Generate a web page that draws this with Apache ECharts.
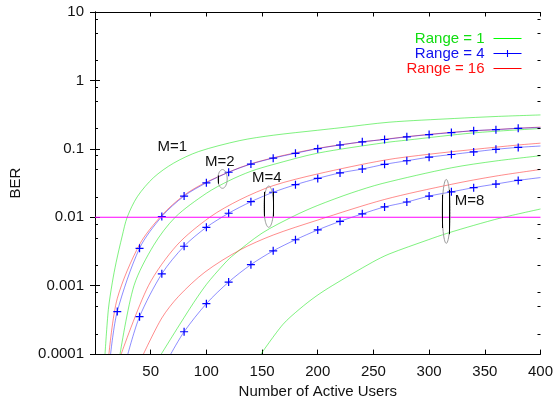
<!DOCTYPE html>
<html><head><meta charset="utf-8">
<script src="https://cdn.jsdelivr.net/npm/echarts@6/dist/echarts.min.js"></script>
<style>html,body{margin:0;padding:0;background:#fff}#c{width:556px;height:404px}</style>
</head><body><div id="c"></div>
<script>
// ---- axis ticks ----
const xTickMin = 0, xTickMax = 400, xTickStep = 50;
const yTickLabels = ['0.0001','0.001','0.01','0.1','1','10'];
const yMinorTicks = [0.0002,0.0005,0.0008,0.002,0.005,0.008,0.02,0.05,0.08,0.2,0.5,0.8,2,5,8];

// ---- Range = 1 (green) curves, M = 1,2,4,8 ----
const g1X = [9,12,15.5,19,24.4,28.9,38,52.6,70.5,93,130,160,200,220,264,323,360,400];
const g1Y = [0.0001,0.00045,0.0011,0.0022,0.0053,0.01,0.02,0.038,0.0617,0.0912,0.132,0.158,0.187,0.203,0.245,0.278,0.297,0.313];
const g2X = [22.5,35,52.7,72,100,120,140,160,200,260,280,340,400];
const g2Y = [0.0001,0.001,0.0039,0.01,0.0224,0.034,0.047,0.059,0.0865,0.123,0.134,0.171,0.198];
const g3X = [59.5,85.4,100,115,122.6,150,179,200,230,257.8,320,360,400];
const g3Y = [0.0001,0.00047,0.00104,0.002,0.00266,0.00586,0.0105,0.0149,0.0226,0.0311,0.0528,0.0665,0.0793];
const g4X = [149,168.6,184,198.4,213,249,264,299.4,315.8,340,364.8,400];
const g4Y = [0.0001,0.00027,0.00046,0.0007,0.001,0.0022,0.0029,0.0047,0.0058,0.0076,0.0098,0.0132];

// ---- Range = 4 (blue, + markers every 20 users) ----
const b1X = [14,20,40,60,80,100,120,140,160,180,200,220,240,260,280,300,320,340,360,380,400];
const b1Y = [0.0001,0.000419,0.00352,0.01026,0.0204,0.0319,0.0455,0.0599,0.0731,0.0861,0.1007,0.1138,0.1268,0.137,0.1497,0.1616,0.1726,0.1845,0.1906,0.1996,0.205];
const b2X = [29.5,40,60,80,100,120,140,160,180,200,220,240,260,280,300,320,340,360,380,400];
const b2Y = [0.0001,0.000352,0.00149,0.00377,0.00713,0.01145,0.01687,0.0232,0.0299,0.037,0.0445,0.0507,0.0593,0.067,0.0755,0.0826,0.0902,0.0984,0.105,0.11];
const b3X = [68,80,100,120,140,160,180,200,220,240,260,280,300,320,340,360,380,400];
const b3Y = [0.0001,0.000212,0.000546,0.00113,0.00203,0.00323,0.00469,0.00653,0.00871,0.01122,0.01416,0.0167,0.0204,0.0235,0.0271,0.0306,0.0346,0.038];
const blueMarkerX = [20,40,60,80,100,120,140,160,180,200,220,240,260,280,300,320,340,360,380];

// ---- Range = 16 (red) ----
const r1X = [12.5,20,40,60,80,100,140,200,260,320,400];
const r1Y = [0.0001,0.00065,0.004,0.0107,0.021,0.0326,0.0605,0.1015,0.138,0.174,0.208];
const r2X = [23.5,48,73.5,103,130,160,200,260,300,340,380,400];
const r2Y = [0.0001,0.001,0.0039,0.01,0.018,0.029,0.043,0.0684,0.0834,0.098,0.1138,0.121];
const r3X = [43.5,60,75,98.7,130,160,200,260,320,360,400];
const r3Y = [0.0001,0.000337,0.000697,0.00158,0.00332,0.0055,0.0091,0.0182,0.0303,0.04,0.0499];

// ---- threshold line ----
const thresholdX = [0, 400];
const thresholdY = 0.01;

// ---- annotations (data coordinates) ----
const labelText = ['M=1','M=2','M=4','M=8'];
const labelX = [69.3,112.1,154.3,336.3];
const labelY = [0.1057,0.064,0.0382,0.0176];
const ellipseX = [114.5,156,315.4];
const ellipseTop = [0.0498,0.0286,0.0357];
const ellipseBottom = [0.0265,0.00713,0.00416];
const ellipseHalfW = [4.2,4.35,3.6];
const sideLeft = [[0.0408,0.0309],[0.0235,0.01026],[0.0213,0.00697]];
const sideRight = [null,[0.0235,0.01026],[0.0251,0.00566]];

const legendNames = ['Range = 1','Range = 4','Range = 16'];

const FONT = 'Liberation Sans, Arial, sans-serif';
const GREEN = 'rgba(0,230,0,0.5)', BLUE = 'rgba(0,0,255,0.45)', RED = 'rgba(255,0,0,0.45)';
const CROSS = 'path://M0,4.25H10V5.75H0Z M4.25,0H5.75V10H4.25Z';
// horizontal dash used only for the legend icon (tiny corner dots keep a square box)
const DASH = 'path://M0,0H0.01V0.01H0Z M0,4.4H10V5.6H0Z M9.99,9.99H10V10H9.99Z';

function zip(xs, ys){ return xs.map((x,i)=>[x, ys[i]]); }
function plain(name, xs, ys, color, solid){
  return {name, type:'line', data: zip(xs,ys), symbol: DASH, showSymbol:false, smooth:0.3,
    lineStyle:{color, width:1}, itemStyle:{color: solid}, z:2, silent:true, animation:false};
}
function blue(xs, ys){
  return {name:'Range = 4', type:'line', smooth:0.3,
    data: xs.map((x,i)=> blueMarkerX.indexOf(x) >= 0 ? [x, ys[i]] : {value:[x, ys[i]], symbol:'none'}),
    symbol: CROSS, symbolSize: 8, showAllSymbol: true,
    lineStyle:{color:BLUE, width:1}, itemStyle:{color:'#0000ff'}, z:3, silent:true, animation:false};
}

const series = [
  plain('Range = 1', g1X, g1Y, GREEN, '#00ff00'),
  plain('Range = 1', g2X, g2Y, GREEN, '#00ff00'),
  plain('Range = 1', g3X, g3Y, GREEN, '#00ff00'),
  plain('Range = 1', g4X, g4Y, GREEN, '#00ff00'),
  blue(b1X, b1Y), blue(b2X, b2Y), blue(b3X, b3Y),
  plain('Range = 16', r1X, r1Y, RED, '#ff0000'),
  plain('Range = 16', r2X, r2Y, RED, '#ff0000'),
  plain('Range = 16', r3X, r3Y, RED, '#ff0000'),
  {name:'threshold', type:'line', data: thresholdX.map(x=>[x, thresholdY]), symbol:'none',
   lineStyle:{color:'#ff00ff', width:1}, z:4, silent:true, animation:false},
  {name:'minorTicks', type:'custom', data: yMinorTicks.map(v=>[0, v]), z:5, silent:true, animation:false, clip:false,
   renderItem:(p, api)=>{
     const v = api.value(1);
     const l = api.coord([xTickMin, v]), r = api.coord([xTickMax, v]);
     const y = Math.round(l[1]) + 0.5;
     return {type:'group', children:[
       {type:'line', shape:{x1:l[0], y1:y, x2:l[0]+3, y2:y}, style:{stroke:'#000', lineWidth:1}},
       {type:'line', shape:{x1:r[0]-3, y1:y, x2:r[0], y2:y}, style:{stroke:'#000', lineWidth:1}}
     ]};
   }},
  {name:'ellipses', type:'custom', data: ellipseX.map((x,i)=>[x, ellipseTop[i], ellipseBottom[i], ellipseHalfW[i], i]),
   z:6, silent:true, animation:false,
   renderItem:(p, api)=>{
     const x = api.value(0), t = api.value(1), b = api.value(2), hw = api.value(3), i = api.value(4);
     const a = api.coord([x - hw, t]), c = api.coord([x + hw, b]);
     const cx = (a[0]+c[0])/2, cy = (a[1]+c[1])/2, rx = (c[0]-a[0])/2, ry = (c[1]-a[1])/2;
     const pts = [];
     for (let k = 0; k <= 64; k++){ const th = k/64*Math.PI*2; pts.push([cx + rx*Math.cos(th), cy + ry*Math.sin(th)]); }
     const children = [{type:'polyline', shape:{points:pts}, style:{stroke:'#999', lineWidth:1, fill:null}}];
     const sl = sideLeft[i], sr = sideRight[i];
     if (sl){ const p1 = api.coord([x - hw, sl[0]]), p2 = api.coord([x - hw, sl[1]]);
       children.push({type:'line', shape:{x1:Math.round(p1[0])+0.5, y1:p1[1], x2:Math.round(p1[0])+0.5, y2:p2[1]}, style:{stroke:'#000', lineWidth:1}}); }
     if (sr){ const p1 = api.coord([x + hw, sr[0]]), p2 = api.coord([x + hw, sr[1]]);
       children.push({type:'line', shape:{x1:Math.round(p1[0])-0.5, y1:p1[1], x2:Math.round(p1[0])-0.5, y2:p2[1]}, style:{stroke:'#000', lineWidth:1}}); }
     return {type:'group', children};
   }},
  {name:'labels', type:'custom', data: labelX.map((x,i)=>[x, labelY[i], i]), z:7, silent:true, animation:false,
   renderItem:(p, api)=>{
     const pt = api.coord([api.value(0), api.value(1)]);
     return {type:'text', x: pt[0], y: pt[1], style:{text: labelText[api.value(2)], fill:'#111',
       font: '15px ' + FONT, align:'center', verticalAlign:'middle'}};
   }}
];

const legendTextColors = ['#11dd11','#1111ee','#ff1111'];
const legendLineColors = ['#00ff00','#0000ff','#ff0000'];

const chart = echarts.init(document.getElementById('c'), null, {renderer:'canvas'});
chart.setOption({
  animation:false,
  backgroundColor:'#fff',
  textStyle:{fontFamily:FONT},
  grid:{left:95, right:14, top:12, bottom:44, containLabel:false},
  legend:{orient:'vertical', right:29, top:26, align:'right', itemWidth:28, itemHeight:9, itemGap:0,
    selectedMode:false, textStyle:{fontSize:15, lineHeight:15, fontFamily:FONT, padding:[0,4,0,0]},
    data: legendNames.map((n,i)=>({name:n, textStyle:{color:legendTextColors[i]},
      lineStyle:{color:legendLineColors[i], width:1},
      itemStyle:{color:legendLineColors[i]}}))},
  xAxis:[
    {type:'value', min:xTickMin, max:xTickMax, interval:xTickStep, position:'bottom',
     name:'Number of Active Users', nameLocation:'middle', nameGap:22,
     nameTextStyle:{fontSize:15, color:'#111', fontFamily:FONT},
     axisLine:{lineStyle:{color:'#000', width:1}}, axisTick:{inside:true, length:4.5, lineStyle:{color:'#000'}},
     axisLabel:{fontSize:15, color:'#111', margin:10, showMinLabel:false, fontFamily:FONT},
     splitLine:{show:false}},
    {type:'value', min:xTickMin, max:xTickMax, interval:xTickStep, position:'top',
     axisLine:{lineStyle:{color:'#000', width:1}}, axisTick:{inside:true, length:4.5, lineStyle:{color:'#000'}},
     axisLabel:{show:false}, splitLine:{show:false}}
  ],
  yAxis:[
    {type:'log', logBase:10, min:0.0001, max:10, position:'left',
     name:'BER', nameLocation:'middle', nameGap:72, nameRotate:90,
     nameTextStyle:{fontSize:15, color:'#111', fontFamily:FONT},
     axisLine:{lineStyle:{color:'#000', width:1}}, axisTick:{inside:true, length:5, lineStyle:{color:'#000'}},
     axisLabel:{fontSize:15, color:'#111', margin:11, fontFamily:FONT,
       formatter:(v)=> yTickLabels[Math.round(Math.log10(v)) + 4]},
     splitLine:{show:false}},
    {type:'log', logBase:10, min:0.0001, max:10, position:'right',
     axisLine:{lineStyle:{color:'#000', width:1}}, axisTick:{inside:true, length:5, lineStyle:{color:'#000'}},
     axisLabel:{show:false}, splitLine:{show:false}}
  ],
  series
});
</script></body></html>
